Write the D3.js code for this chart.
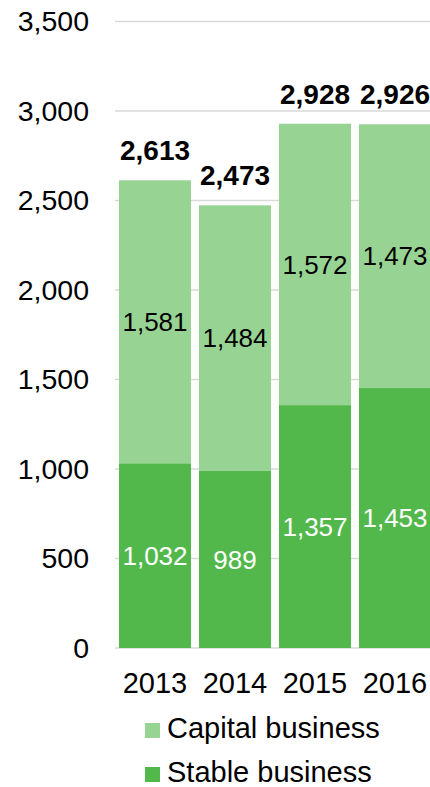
<!DOCTYPE html>
<html>
<head>
<meta charset="utf-8">
<script src="https://cdn.jsdelivr.net/npm/d3@7"></script>
<style>
  body { margin: 0; background: #fff; }
  text { font-family: "Liberation Sans", Arial, sans-serif; }
</style>
</head>
<body>
<div id="chart"></div>
<script>
var years = ["2013", "2014", "2015", "2016"];
var stable = [1032, 989, 1357, 1453];
var capital = [1581, 1484, 1572, 1473];
var totals = [2613, 2473, 2928, 2926];
var yTicks = [0, 500, 1000, 1500, 2000, 2500, 3000, 3500];
var seriesNames = ["Capital business", "Stable business"];
var colors = { capital: "#97d494", stable: "#53b84b" };

var W = 430, H = 787;
var svg = d3.select('#chart').append('svg')
    .attr('width', W).attr('height', H);

var x = d3.scaleBand().domain(years).range([115, 435])
    .paddingInner(0.1).paddingOuter(0.05);
var y = d3.scaleLinear().domain([0, 3500]).range([648, 21.5]);
var fmt = d3.format(",");

// gridlines
svg.append('g').selectAll('line')
    .data(yTicks).enter()
    .append('line')
    .attr('x1', 115).attr('x2', 430)
    .attr('y1', function(d){ return y(d); })
    .attr('y2', function(d){ return y(d); })
    .attr('stroke', '#d9d9d9')
    .attr('stroke-width', 1.5);

// y labels
svg.append('g').selectAll('text')
    .data(yTicks).enter()
    .append('text')
    .attr('x', 89)
    .attr('y', function(d){ return y(d); })
    .attr('dy', '0.35em')
    .attr('text-anchor', 'end')
    .attr('font-size', 28.5)
    .attr('fill', '#000')
    .text(function(d){ return fmt(d); });

// stable bars
svg.append('g').selectAll('rect')
    .data(years).enter()
    .append('rect')
    .attr('x', function(d){ return x(d); })
    .attr('width', x.bandwidth())
    .attr('y', function(d, i){ return y(stable[i]); })
    .attr('height', function(d, i){ return y(0) - y(stable[i]); })
    .attr('fill', colors.stable);

// capital bars
svg.append('g').selectAll('rect')
    .data(years).enter()
    .append('rect')
    .attr('x', function(d){ return x(d); })
    .attr('width', x.bandwidth())
    .attr('y', function(d, i){ return y(stable[i] + capital[i]); })
    .attr('height', function(d, i){ return y(stable[i]) - y(stable[i] + capital[i]); })
    .attr('fill', colors.capital);

// inner labels
svg.append('g').selectAll('text')
    .data(years).enter()
    .append('text')
    .attr('x', function(d){ return x(d) + x.bandwidth() / 2; })
    .attr('y', function(d, i){ return y(stable[i] / 2); })
    .attr('dy', '0.35em')
    .attr('text-anchor', 'middle')
    .attr('font-size', 26)
    .attr('fill', '#fff')
    .text(function(d, i){ return fmt(stable[i]); });

svg.append('g').selectAll('text')
    .data(years).enter()
    .append('text')
    .attr('x', function(d){ return x(d) + x.bandwidth() / 2; })
    .attr('y', function(d, i){ return y(stable[i] + capital[i] / 2); })
    .attr('dy', '0.35em')
    .attr('text-anchor', 'middle')
    .attr('font-size', 26)
    .attr('fill', '#000')
    .text(function(d, i){ return fmt(capital[i]); });

// totals
svg.append('g').selectAll('text')
    .data(years).enter()
    .append('text')
    .attr('x', function(d){ return x(d) + x.bandwidth() / 2; })
    .attr('y', function(d, i){ return y(totals[i]) - 20; })
    .attr('text-anchor', 'middle')
    .attr('font-size', 28)
    .attr('font-weight', 'bold')
    .attr('fill', '#000')
    .text(function(d, i){ return fmt(totals[i]); });

// x labels
svg.append('g').selectAll('text')
    .data(years).enter()
    .append('text')
    .attr('x', function(d){ return x(d) + x.bandwidth() / 2; })
    .attr('y', 693)
    .attr('text-anchor', 'middle')
    .attr('font-size', 29)
    .attr('fill', '#000')
    .text(function(d){ return d; });

// legend
var legend = svg.append('g').selectAll('g')
    .data(seriesNames).enter()
    .append('g')
    .attr('transform', function(d, i){ return 'translate(145,' + (723 + i * 44) + ')'; });
legend.append('rect')
    .attr('width', 15).attr('height', 15)
    .attr('fill', function(d, i){ return i === 0 ? colors.capital : colors.stable; });
legend.append('text')
    .attr('x', 22).attr('y', 15)
    .attr('font-size', 29)
    .attr('fill', '#000')
    .text(function(d){ return d; });
</script>
</body>
</html>
